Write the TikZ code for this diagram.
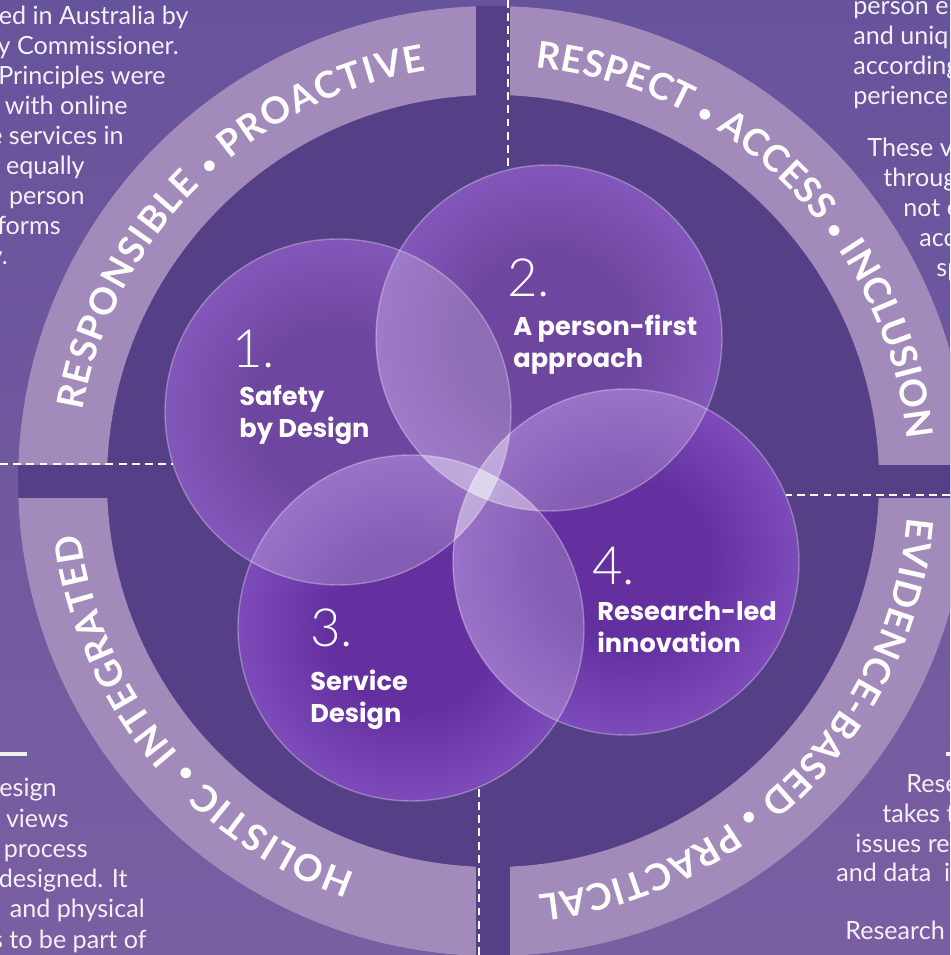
\documentclass[tikz,border=0pt]{standalone}
\usepackage{fontspec}
\setmainfont{Lato}
\newfontfamily\labelfont{Poppins}
\newfontfamily\numfont{Lato Light}
\usetikzlibrary{decorations.text}

\definecolor{bgtop}{HTML}{67539C}
\definecolor{bgbot}{HTML}{7A5EA2}
\definecolor{disk}{HTML}{553F86}
\definecolor{ringlav}{HTML}{A28ABA}
\definecolor{orbAin}{HTML}{6E469F}
\definecolor{orbAout}{HTML}{9563D0}
\definecolor{orbBin}{HTML}{6430A0}
\definecolor{orbBout}{HTML}{9262CE}
\definecolor{sidewhite}{HTML}{F4F0F8}

\pgfdeclareradialshading{orbA}{\pgfpoint{0bp}{0bp}}{color(0bp)=(orbAin); color(12bp)=(orbAin); color(35.36bp)=(orbAout); color(50bp)=(orbAout)}
\pgfdeclareradialshading{orbB}{\pgfpoint{0bp}{0bp}}{color(0bp)=(orbBin); color(12bp)=(orbBin); color(35.36bp)=(orbBout); color(50bp)=(orbBout)}

\newcommand\ringbold{\bfseries\fontsize{21}{21}\selectfont}
\newcommand\ringdot{\bfseries\fontsize{14}{14}\selectfont}
\newcommand\sidefont{\fontsize{14.3}{17}\selectfont}

\begin{document}
\begin{tikzpicture}[x=0.02cm, y=0.02cm,
        sidetext/.style={text=sidewhite, font=\sidefont, inner sep=0pt},
        orblabel/.style={text=white, font=\labelfont\bfseries\fontsize{14.6}{18.5}\selectfont, align=left, inner sep=0pt},
        orbnum/.style={text=white, font=\numfont\fontsize{30}{30}\selectfont, inner sep=0pt},
        divider/.style={white, line width=1.4pt, dash pattern=on 4.5pt off 3pt},
        ringtext/.style={decorate, decoration={text along path, text align={fit to path}, text color=white, text={|\ringbold|#1}}}
    ]
        \clip (0,0) rectangle (950,955);
        \shade[top color=bgtop, bottom color=bgbot] (0,0) rectangle (950,955);

        % Wheel
        \coordinate (O) at (493,474);
        \fill[disk] (O) circle (475);
        \fill[ringlav, even odd rule] (O) circle (475) (O) circle (386);
        \begin{scope}
            \clip (O) circle (475);
            \fill[disk] (476,0) rectangle (510,955);
            \fill[disk] (0,457) rectangle (950,490);
        \end{scope}

        % Ring words
        \path[ringtext={RESPONSIBLE |\ringdot|•|\ringbold| PROACTIVE}] (O) ++(170.3:416) arc[start angle=170.3, end angle=99.2, radius=416];
        \path[ringtext={RESPECT |\ringdot|•|\ringbold| ACCESS |\ringdot|•|\ringbold| INCLUSION}] (O) ++(84.1:416) arc[start angle=84.1, end angle=5.8, radius=416];
        \path[ringtext={EVIDENCE-BASED |\ringdot|•|\ringbold| PRACTICAL}] (O) ++(-5:416) arc[start angle=-5, end angle=-83.7, radius=416];
        \path[ringtext={HOLISTIC |\ringdot|•|\ringbold| INTEGRATED}] (O) ++(250.7:416) arc[start angle=250.7, end angle=187.3, radius=416];

        % Dividers
        \coordinate (topend) at (508,955);
        \coordinate (topcut) at (508,785);
        \coordinate (rightend) at (950,460);
        \coordinate (rightcut) at (785.5,460);
        \coordinate (bottomend) at (479,0);
        \coordinate (bottomcut) at (479,168);
        \coordinate (leftend) at (0,491);
        \coordinate (leftcut) at (173,491);
        \draw[divider] (topend) -- (topcut);
        \draw[divider] (rightend) -- (rightcut);
        \draw[divider] (bottomend) -- (bottomcut);
        \draw[divider] (leftend) -- (leftcut);

        % Orbs
        \coordinate (c1) at (338,543);
        \coordinate (c2) at (549,617);
        \coordinate (c3) at (411,327);
        \coordinate (c4) at (626,393);
        \shade[shading=orbA] (c1) circle (173);
        \shade[shading=orbA] (c2) circle (173);
        \shade[shading=orbB] (c3) circle (173);
        \shade[shading=orbB] (c4) circle (173);
        \foreach \a/\b in {c1/c2, c1/c3, c1/c4, c2/c3, c2/c4, c3/c4} {
            \begin{scope}
                \clip (\a) circle (173);
                \fill[white, fill opacity=0.22] (\b) circle (173);
            \end{scope}
        }
        \foreach \i in {1,...,4}
            \draw[white, opacity=0.3, line width=0.8pt] (c\i) circle (173);

        % Orb texts
        \node[orbnum, anchor=base west] (n1) at (232,587) {1.};
        \node[orblabel, anchor=base west] (l1) at (239,517) {Safety\\by Design};
        \node[orbnum, anchor=base west] (n2) at (507,658) {2.};
        \node[orblabel, anchor=base west] (l2) at (513,587) {A person-first\\approach};
        \node[orbnum, anchor=base west] (n3) at (310,308) {3.};
        \node[orblabel, anchor=base west] (l3) at (310,232) {Service\\Design};
        \node[orbnum, anchor=base west] (n4) at (592,370) {4.};
        \node[orblabel, anchor=base west] (l4) at (597,302) {Research-led\\innovation};

        % Side text, top left
        \node[sidetext, anchor=base east] (tl1) at (189,930) {ed in Australia by};
        \node[sidetext, anchor=base east] (tl2) at (179,900) {y Commissioner.};
        \node[sidetext, anchor=base east] (tl3) at (166,870) {Principles were};
        \node[sidetext, anchor=base east] (tl4) at (128,840) {with online};
        \node[sidetext, anchor=base east] (tl5) at (124,810) {e services in};
        \node[sidetext, anchor=base east] (tl6) at (85,780) {y equally};
        \node[sidetext, anchor=base east] (tl7) at (85,750) {person};
        \node[sidetext, anchor=base east] (tl8) at (61,720) {forms};
        \node[sidetext, anchor=base east] (tl9) at (8,690) {y.};

        % Side text, top right
        \node[sidetext, anchor=base west] (tr1) at (853,940) {person e};
        \node[sidetext, anchor=base west] (tr2) at (853,910) {and uniq};
        \node[sidetext, anchor=base west] (tr3) at (853,880) {according};
        \node[sidetext, anchor=base west] (tr4) at (853,850) {perience};
        \node[sidetext, anchor=base west] (tr5) at (867,798) {These v};
        \node[sidetext, anchor=base west] (tr6) at (883,768) {throug};
        \node[sidetext, anchor=base west] (tr7) at (903,738) {not c};
        \node[sidetext, anchor=base west] (tr8) at (919,708) {acc};
        \node[sidetext, anchor=base west] (tr9) at (936,678) {sp};

        % Side text, bottom left
        \coordinate (barL1) at (0,201);
        \coordinate (barL2) at (27,201);
        \draw[gray!12, line width=2.3pt] (barL1) -- (barL2);
        \node[sidetext, anchor=base east] (bl1) at (57,158) {esign};
        \node[sidetext, anchor=base east] (bl2) at (69,127) {views};
        \node[sidetext, anchor=base east] (bl3) at (88,97) {process};
        \node[sidetext, anchor=base east] (bl4) at (128,67) {designed. It};
        \node[sidetext, anchor=base east] (bl5) at (145,37) {and physical};
        \node[sidetext, anchor=base east] (bl6) at (147,7) {s to be part of};

        % Side text, bottom right
        \coordinate (barR1) at (946,201);
        \coordinate (barR2) at (950,201);
        \draw[gray!12, line width=2.3pt] (barR1) -- (barR2);
        \node[sidetext, anchor=base west] (br1) at (906,162) {Rese};
        \node[sidetext, anchor=base west] (br2) at (882,132) {takes t};
        \node[sidetext, anchor=base west] (br3) at (855,102) {issues rec};
        \node[sidetext, anchor=base west] (br4) at (836,73) {and data\ \ in};
        \node[sidetext, anchor=base west] (br5) at (845,15) {Research I};
    \end{tikzpicture}
\end{document}
